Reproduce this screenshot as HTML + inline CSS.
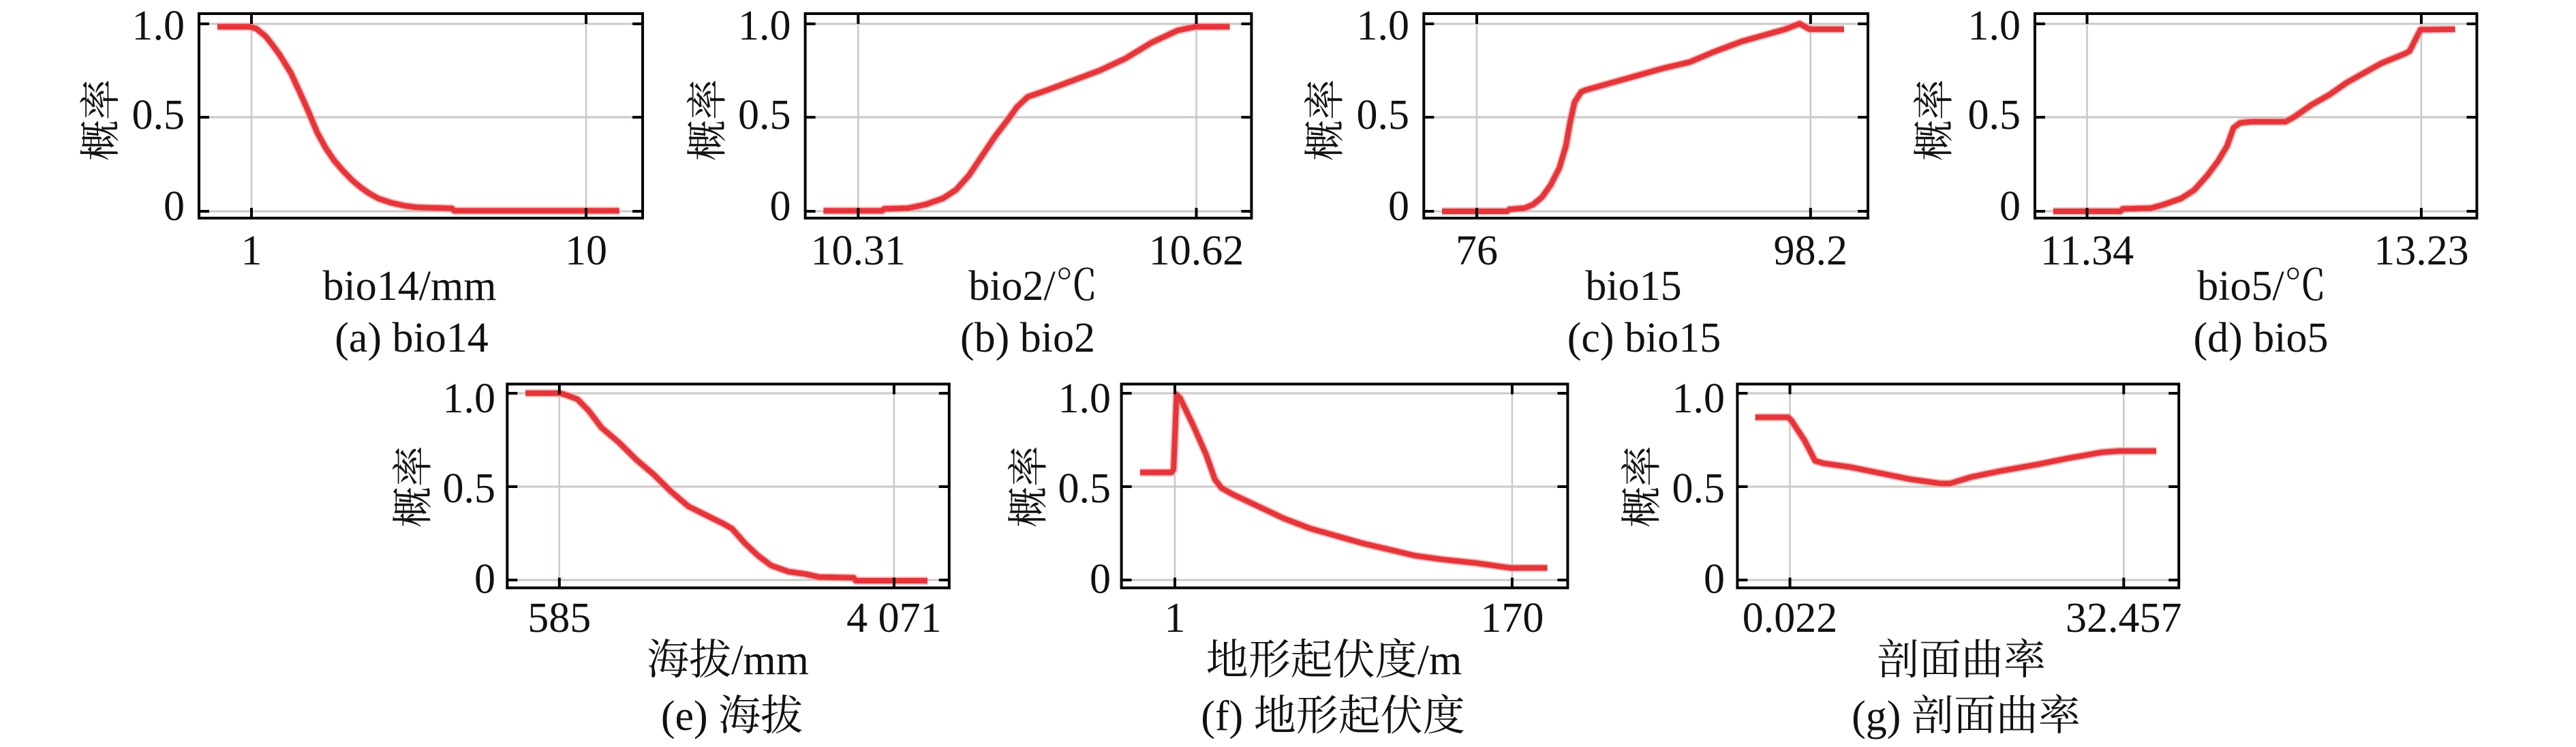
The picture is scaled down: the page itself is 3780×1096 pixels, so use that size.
<!DOCTYPE html>
<html><head><meta charset="utf-8">
<style>
html,body{margin:0;padding:0;background:#fff;}
svg{display:block;}
text{font-family:"Liberation Serif","Noto Serif CJK SC",serif;font-size:62px;fill:#111;}
.yl{font-size:60px;}
.grid line{stroke:#cbc8c5;stroke-width:3;}
.grid line.v{stroke-width:2.5;}
.tk line{stroke:#000;stroke-width:4;}
.box{fill:none;stroke:#000;stroke-width:4;}
.c1{fill:none;stroke:#f4a0a0;stroke-width:12;stroke-linejoin:round;opacity:0.7;}
.c2{fill:none;stroke:#e6353a;stroke-width:8;stroke-linejoin:round;}
</style></head>
<body>
<svg width="3780" height="1096" viewBox="0 0 3780 1096" xmlns="http://www.w3.org/2000/svg">
<rect width="3780" height="1096" fill="#fff"/>

<!-- ===== (a) ===== -->
<g class="grid">
<line x1="292" y1="35" x2="943" y2="35"/><line x1="292" y1="172" x2="943" y2="172"/><line x1="292" y1="310" x2="943" y2="310"/>
<line class="v" x1="369" y1="20" x2="369" y2="320"/><line class="v" x1="860" y1="20" x2="860" y2="320"/>
</g>
<g transform="translate(0,0) scale(0.63776,0.35714)">
<path class="c1" vector-effect="non-scaling-stroke" d="M500,110 L575,110 L590,118 L611,149 L625,180 L643,224 L669,299 L690,380 L710,460 L730,545 L750,610 L770,662 L790,703 L810,740 L830,770 L850,795 L870,815 L900,833 L930,845 L960,852 L1040,856 L1045,866 L1425,866"/>
<path class="c2" vector-effect="non-scaling-stroke" d="M500,110 L575,110 L590,118 L611,149 L625,180 L643,224 L669,299 L690,380 L710,460 L730,545 L750,610 L770,662 L790,703 L810,740 L830,770 L850,795 L870,815 L900,833 L930,845 L960,852 L1040,856 L1045,866 L1425,866"/>
</g>
<g class="tk">
<line x1="292" y1="35" x2="307" y2="35"/><line x1="292" y1="172" x2="307" y2="172"/><line x1="292" y1="310" x2="307" y2="310"/>
<line x1="928" y1="35" x2="943" y2="35"/><line x1="928" y1="172" x2="943" y2="172"/><line x1="928" y1="310" x2="943" y2="310"/>
<line x1="369" y1="20" x2="369" y2="35"/><line x1="860" y1="20" x2="860" y2="35"/>
<line x1="369" y1="305" x2="369" y2="320"/><line x1="860" y1="305" x2="860" y2="320"/>
</g>
<rect class="box" x="292" y="20" width="651" height="300"/>
<text x="271" y="58" text-anchor="end">1.0</text><text x="271" y="189" text-anchor="end">0.5</text><text x="271" y="323" text-anchor="end">0</text>
<text class="yl" transform="translate(148.5,176) rotate(-90)" text-anchor="middle" dominant-baseline="central">概率</text>
<text x="369" y="388" text-anchor="middle">1</text><text x="860" y="388" text-anchor="middle">10</text>
<text x="601" y="440" text-anchor="middle">bio14/mm</text>
<text x="604" y="516" text-anchor="middle">(a) bio14</text>

<!-- ===== (b) ===== -->
<g class="grid">
<line x1="1181.6" y1="35" x2="1836.4" y2="35"/><line x1="1181.6" y1="172" x2="1836.4" y2="172"/><line x1="1181.6" y1="310" x2="1836.4" y2="310"/>
<line class="v" x1="1259.3" y1="20" x2="1259.3" y2="320"/><line class="v" x1="1755.5" y1="20" x2="1755.5" y2="320"/>
</g>
<g transform="translate(950,0) scale(0.63776,0.35714)">
<path class="c1" vector-effect="non-scaling-stroke" d="M405,866 L540,866 L545,858 L600,855 L640,840 L680,815 L710,780 L740,720 L770,640 L800,560 L830,490 L850,440 L875,398 L920,370 L980,330 L1040,290 L1100,240 L1160,175 L1220,125 L1260,110 L1340,110"/>
<path class="c2" vector-effect="non-scaling-stroke" d="M405,866 L540,866 L545,858 L600,855 L640,840 L680,815 L710,780 L740,720 L770,640 L800,560 L830,490 L850,440 L875,398 L920,370 L980,330 L1040,290 L1100,240 L1160,175 L1220,125 L1260,110 L1340,110"/>
</g>
<g class="tk">
<line x1="1181.6" y1="35" x2="1196.6" y2="35"/><line x1="1181.6" y1="172" x2="1196.6" y2="172"/><line x1="1181.6" y1="310" x2="1196.6" y2="310"/>
<line x1="1821.4" y1="35" x2="1836.4" y2="35"/><line x1="1821.4" y1="172" x2="1836.4" y2="172"/><line x1="1821.4" y1="310" x2="1836.4" y2="310"/>
<line x1="1259.3" y1="20" x2="1259.3" y2="35"/><line x1="1755.5" y1="20" x2="1755.5" y2="35"/>
<line x1="1259.3" y1="305" x2="1259.3" y2="320"/><line x1="1755.5" y1="305" x2="1755.5" y2="320"/>
</g>
<rect class="box" x="1181.6" y="20" width="654.8" height="300"/>
<text x="1160.5" y="58" text-anchor="end">1.0</text><text x="1160.5" y="189" text-anchor="end">0.5</text><text x="1160.5" y="323" text-anchor="end">0</text>
<text class="yl" transform="translate(1039,176) rotate(-90)" text-anchor="middle" dominant-baseline="central">概率</text>
<text x="1259.3" y="388" text-anchor="middle">10.31</text><text x="1755.5" y="388" text-anchor="middle">10.62</text>
<text x="1516" y="440" text-anchor="middle">bio2/℃</text>
<text x="1508" y="516" text-anchor="middle">(b) bio2</text>

<!-- ===== (c) ===== -->
<g class="grid">
<line x1="2089.3" y1="35" x2="2741" y2="35"/><line x1="2089.3" y1="172" x2="2741" y2="172"/><line x1="2089.3" y1="310" x2="2741" y2="310"/>
<line class="v" x1="2167" y1="20" x2="2167" y2="320"/><line class="v" x1="2656.8" y1="20" x2="2656.8" y2="320"/>
</g>
<g transform="translate(1880,0) scale(0.63776,0.35714)">
<path class="c1" vector-effect="non-scaling-stroke" d="M370,868 L520,868 L525,860 L560,855 L580,840 L600,810 L620,760 L640,690 L655,600 L665,500 L675,420 L690,378 L700,370 L760,340 L820,310 L880,280 L940,255 L1000,210 L1060,170 L1120,140 L1160,120 L1193,97 L1215,120 L1295,120"/>
<path class="c2" vector-effect="non-scaling-stroke" d="M370,868 L520,868 L525,860 L560,855 L580,840 L600,810 L620,760 L640,690 L655,600 L665,500 L675,420 L690,378 L700,370 L760,340 L820,310 L880,280 L940,255 L1000,210 L1060,170 L1120,140 L1160,120 L1193,97 L1215,120 L1295,120"/>
</g>
<g class="tk">
<line x1="2089.3" y1="35" x2="2104.3" y2="35"/><line x1="2089.3" y1="172" x2="2104.3" y2="172"/><line x1="2089.3" y1="310" x2="2104.3" y2="310"/>
<line x1="2726" y1="35" x2="2741" y2="35"/><line x1="2726" y1="172" x2="2741" y2="172"/><line x1="2726" y1="310" x2="2741" y2="310"/>
<line x1="2167" y1="20" x2="2167" y2="35"/><line x1="2656.8" y1="20" x2="2656.8" y2="35"/>
<line x1="2167" y1="305" x2="2167" y2="320"/><line x1="2656.8" y1="305" x2="2656.8" y2="320"/>
</g>
<rect class="box" x="2089.3" y="20" width="651.7" height="300"/>
<text x="2068" y="58" text-anchor="end">1.0</text><text x="2068" y="189" text-anchor="end">0.5</text><text x="2068" y="323" text-anchor="end">0</text>
<text class="yl" transform="translate(1945,176) rotate(-90)" text-anchor="middle" dominant-baseline="central">概率</text>
<text x="2167" y="388" text-anchor="middle">76</text><text x="2656.8" y="388" text-anchor="middle">98.2</text>
<text x="2397" y="440" text-anchor="middle">bio15</text>
<text x="2412.5" y="516" text-anchor="middle">(c) bio15</text>

<!-- ===== (d) ===== -->
<g class="grid">
<line x1="2986" y1="35" x2="3634.5" y2="35"/><line x1="2986" y1="172" x2="3634.5" y2="172"/><line x1="2986" y1="310" x2="3634.5" y2="310"/>
<line class="v" x1="3062.5" y1="20" x2="3062.5" y2="320"/><line class="v" x1="3553" y1="20" x2="3553" y2="320"/>
</g>
<g transform="translate(2780,0) scale(0.63776,0.35714)">
<path class="c1" vector-effect="non-scaling-stroke" d="M365,868 L520,868 L525,858 L590,855 L620,840 L660,815 L690,780 L720,720 L745,660 L765,600 L780,525 L795,505 L820,500 L900,500 L920,480 L960,430 L1000,390 L1040,340 L1080,300 L1120,260 L1175,220 L1185,210 L1210,122 L1290,120"/>
<path class="c2" vector-effect="non-scaling-stroke" d="M365,868 L520,868 L525,858 L590,855 L620,840 L660,815 L690,780 L720,720 L745,660 L765,600 L780,525 L795,505 L820,500 L900,500 L920,480 L960,430 L1000,390 L1040,340 L1080,300 L1120,260 L1175,220 L1185,210 L1210,122 L1290,120"/>
</g>
<g class="tk">
<line x1="2986" y1="35" x2="3001" y2="35"/><line x1="2986" y1="172" x2="3001" y2="172"/><line x1="2986" y1="310" x2="3001" y2="310"/>
<line x1="3619.5" y1="35" x2="3634.5" y2="35"/><line x1="3619.5" y1="172" x2="3634.5" y2="172"/><line x1="3619.5" y1="310" x2="3634.5" y2="310"/>
<line x1="3062.5" y1="20" x2="3062.5" y2="35"/><line x1="3553" y1="20" x2="3553" y2="35"/>
<line x1="3062.5" y1="305" x2="3062.5" y2="320"/><line x1="3553" y1="305" x2="3553" y2="320"/>
</g>
<rect class="box" x="2986" y="20" width="648.5" height="300"/>
<text x="2965" y="58" text-anchor="end">1.0</text><text x="2965" y="189" text-anchor="end">0.5</text><text x="2965" y="323" text-anchor="end">0</text>
<text class="yl" transform="translate(2839,176) rotate(-90)" text-anchor="middle" dominant-baseline="central">概率</text>
<text x="3062.5" y="388" text-anchor="middle">11.34</text><text x="3553" y="388" text-anchor="middle">13.23</text>
<text x="3319" y="440" text-anchor="middle">bio5/℃</text>
<text x="3317.5" y="516" text-anchor="middle">(d) bio5</text>

<!-- ===== (e) ===== -->
<g class="grid">
<line x1="744.3" y1="577" x2="1392.8" y2="577"/><line x1="744.3" y1="714" x2="1392.8" y2="714"/><line x1="744.3" y1="851" x2="1392.8" y2="851"/>
<line class="v" x1="820.8" y1="563.5" x2="820.8" y2="862.5"/><line class="v" x1="1311.9" y1="563.5" x2="1311.9" y2="862.5"/>
</g>
<g transform="translate(500,530) scale(0.63776,0.36097)">
<path class="c1" vector-effect="non-scaling-stroke" d="M425,130 L505,130 L520,138 L545,155 L570,200 L600,270 L640,330 L680,400 L720,460 L760,530 L800,590 L840,625 L880,660 L900,680 L930,740 L960,790 L990,830 L1030,855 L1070,865 L1100,877 L1180,880 L1185,892 L1350,892"/>
<path class="c2" vector-effect="non-scaling-stroke" d="M425,130 L505,130 L520,138 L545,155 L570,200 L600,270 L640,330 L680,400 L720,460 L760,530 L800,590 L840,625 L880,660 L900,680 L930,740 L960,790 L990,830 L1030,855 L1070,865 L1100,877 L1180,880 L1185,892 L1350,892"/>
</g>
<g class="tk">
<line x1="744.3" y1="577" x2="759.3" y2="577"/><line x1="744.3" y1="714" x2="759.3" y2="714"/><line x1="744.3" y1="851" x2="759.3" y2="851"/>
<line x1="1377.8" y1="577" x2="1392.8" y2="577"/><line x1="1377.8" y1="714" x2="1392.8" y2="714"/><line x1="1377.8" y1="851" x2="1392.8" y2="851"/>
<line x1="820.8" y1="563.5" x2="820.8" y2="578.5"/><line x1="1311.9" y1="563.5" x2="1311.9" y2="578.5"/>
<line x1="820.8" y1="847.5" x2="820.8" y2="862.5"/><line x1="1311.9" y1="847.5" x2="1311.9" y2="862.5"/>
</g>
<rect class="box" x="744.3" y="563.5" width="648.5" height="299"/>
<text x="727" y="605" text-anchor="end">1.0</text><text x="727" y="737" text-anchor="end">0.5</text><text x="727" y="870" text-anchor="end">0</text>
<text class="yl" transform="translate(607,714) rotate(-90)" text-anchor="middle" dominant-baseline="central">概率</text>
<text x="820.8" y="927" text-anchor="middle">585</text><text x="1311.9" y="927" text-anchor="middle">4 071</text>
<text x="1068" y="989" text-anchor="middle">海拔/mm</text>
<text x="1074" y="1071" text-anchor="middle">(e) 海拔</text>

<!-- ===== (f) ===== -->
<g class="grid">
<line x1="1645.6" y1="577" x2="2300.4" y2="577"/><line x1="1645.6" y1="714" x2="2300.4" y2="714"/><line x1="1645.6" y1="851" x2="2300.4" y2="851"/>
<line class="v" x1="1724" y1="563.5" x2="1724" y2="862.5"/><line class="v" x1="2218.9" y1="563.5" x2="2218.9" y2="862.5"/>
</g>
<g transform="translate(1400,530) scale(0.63776,0.36097)">
<path class="c1" vector-effect="non-scaling-stroke" d="M428,452 L500,452 L505,440 L512,135 L520,150 L550,260 L580,380 L600,480 L615,515 L640,540 L700,590 L760,640 L820,680 L880,710 L940,740 L1000,765 L1060,790 L1120,805 L1200,820 L1260,835 L1280,840 L1365,840"/>
<path class="c2" vector-effect="non-scaling-stroke" d="M428,452 L500,452 L505,440 L512,135 L520,150 L550,260 L580,380 L600,480 L615,515 L640,540 L700,590 L760,640 L820,680 L880,710 L940,740 L1000,765 L1060,790 L1120,805 L1200,820 L1260,835 L1280,840 L1365,840"/>
</g>
<g class="tk">
<line x1="1645.6" y1="577" x2="1660.6" y2="577"/><line x1="1645.6" y1="714" x2="1660.6" y2="714"/><line x1="1645.6" y1="851" x2="1660.6" y2="851"/>
<line x1="2285.4" y1="577" x2="2300.4" y2="577"/><line x1="2285.4" y1="714" x2="2300.4" y2="714"/><line x1="2285.4" y1="851" x2="2300.4" y2="851"/>
<line x1="1724" y1="563.5" x2="1724" y2="578.5"/><line x1="2218.9" y1="563.5" x2="2218.9" y2="578.5"/>
<line x1="1724" y1="847.5" x2="1724" y2="862.5"/><line x1="2218.9" y1="847.5" x2="2218.9" y2="862.5"/>
</g>
<rect class="box" x="1645.6" y="563.5" width="654.8" height="299"/>
<text x="1630" y="605" text-anchor="end">1.0</text><text x="1630" y="737" text-anchor="end">0.5</text><text x="1630" y="870" text-anchor="end">0</text>
<text class="yl" transform="translate(1510,714) rotate(-90)" text-anchor="middle" dominant-baseline="central">概率</text>
<text x="1724" y="927" text-anchor="middle">1</text><text x="2218.9" y="927" text-anchor="middle">170</text>
<text x="1957.5" y="989" text-anchor="middle">地形起伏度/m</text>
<text x="1956" y="1071" text-anchor="middle">(f) 地形起伏度</text>

<!-- ===== (g) ===== -->
<g class="grid">
<line x1="2549.4" y1="577" x2="3197.2" y2="577"/><line x1="2549.4" y1="714" x2="3197.2" y2="714"/><line x1="2549.4" y1="851" x2="3197.2" y2="851"/>
<line class="v" x1="2626.5" y1="563.5" x2="2626.5" y2="862.5"/><line class="v" x1="3116.3" y1="563.5" x2="3116.3" y2="862.5"/>
</g>
<g transform="translate(2300,530) scale(0.63776,0.36097)">
<path class="c1" vector-effect="non-scaling-stroke" d="M432,228 L508,228 L515,240 L545,320 L570,405 L590,415 L650,430 L720,455 L790,480 L860,497 L880,497 L930,470 L1000,445 L1080,420 L1150,395 L1230,370 L1270,365 L1355,365"/>
<path class="c2" vector-effect="non-scaling-stroke" d="M432,228 L508,228 L515,240 L545,320 L570,405 L590,415 L650,430 L720,455 L790,480 L860,497 L880,497 L930,470 L1000,445 L1080,420 L1150,395 L1230,370 L1270,365 L1355,365"/>
</g>
<g class="tk">
<line x1="2549.4" y1="577" x2="2564.4" y2="577"/><line x1="2549.4" y1="714" x2="2564.4" y2="714"/><line x1="2549.4" y1="851" x2="2564.4" y2="851"/>
<line x1="3182.2" y1="577" x2="3197.2" y2="577"/><line x1="3182.2" y1="714" x2="3197.2" y2="714"/><line x1="3182.2" y1="851" x2="3197.2" y2="851"/>
<line x1="2626.5" y1="563.5" x2="2626.5" y2="578.5"/><line x1="3116.3" y1="563.5" x2="3116.3" y2="578.5"/>
<line x1="2626.5" y1="847.5" x2="2626.5" y2="862.5"/><line x1="3116.3" y1="847.5" x2="3116.3" y2="862.5"/>
</g>
<rect class="box" x="2549.4" y="563.5" width="647.8" height="299"/>
<text x="2531" y="605" text-anchor="end">1.0</text><text x="2531" y="737" text-anchor="end">0.5</text><text x="2531" y="870" text-anchor="end">0</text>
<text class="yl" transform="translate(2410,714) rotate(-90)" text-anchor="middle" dominant-baseline="central">概率</text>
<text x="2626.5" y="927" text-anchor="middle">0.022</text><text x="3116.3" y="927" text-anchor="middle">32.457</text>
<text x="2878" y="989" text-anchor="middle">剖面曲率</text>
<text x="2885" y="1071" text-anchor="middle">(g) 剖面曲率</text>

</svg>
</body></html>
